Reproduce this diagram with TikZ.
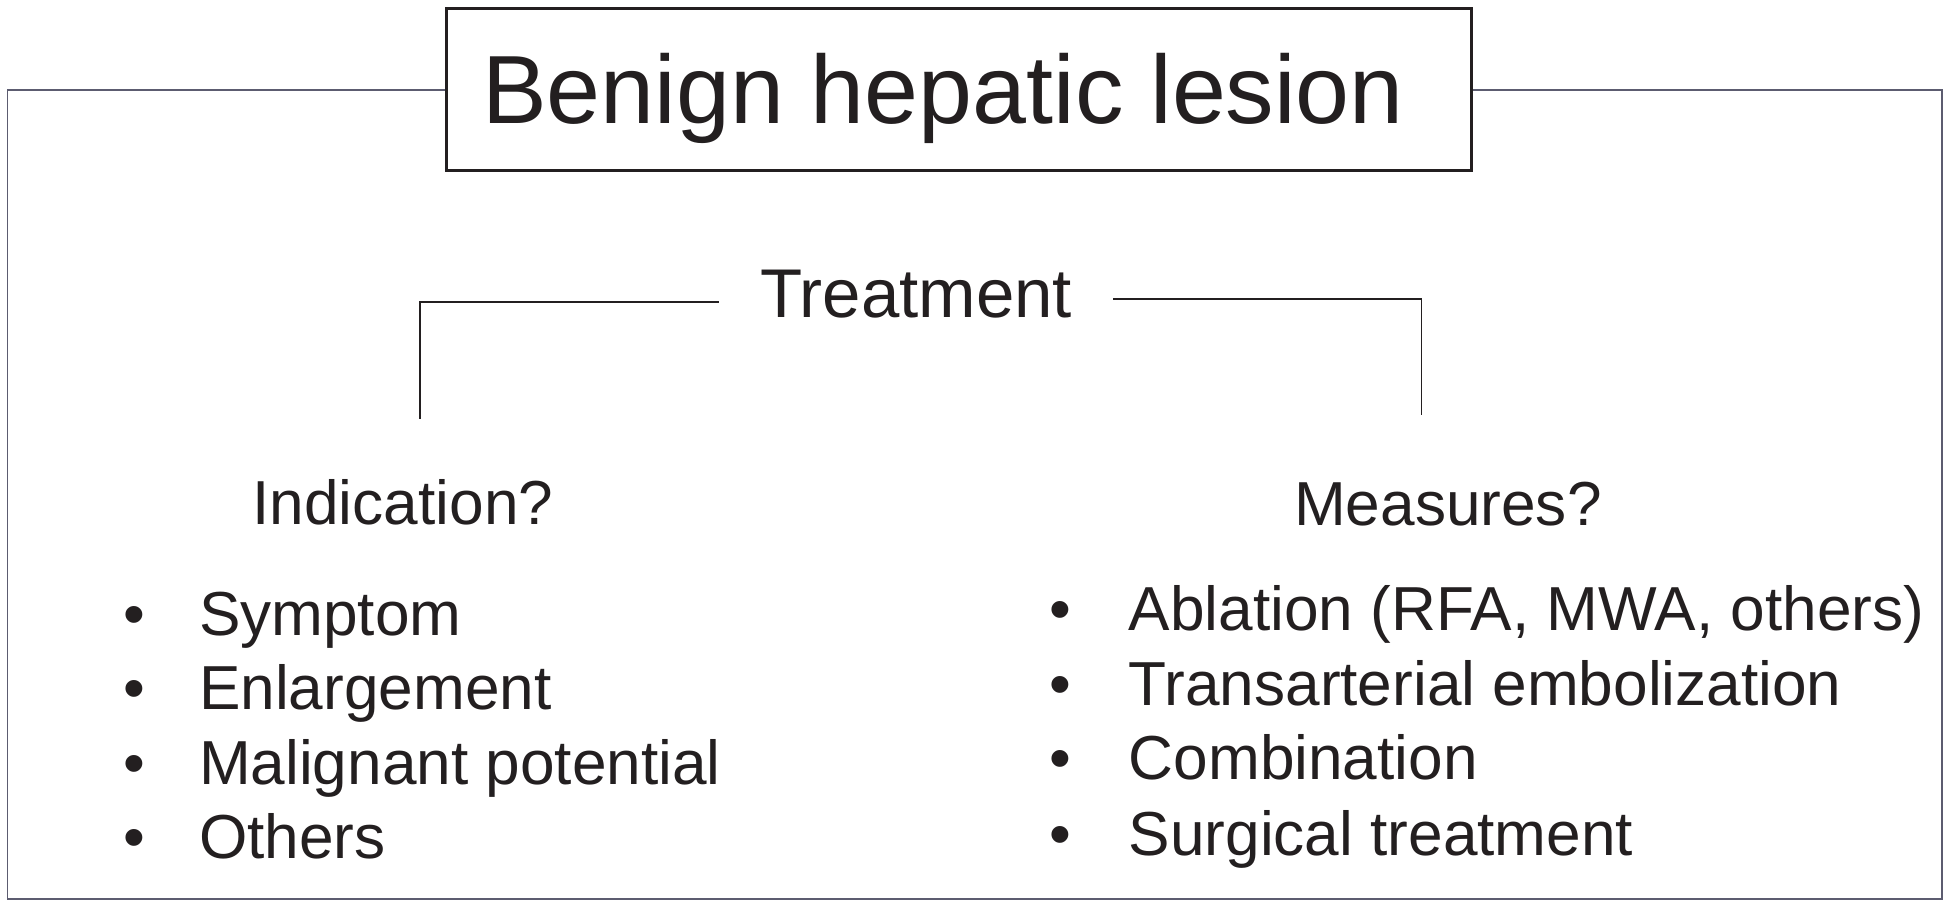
\documentclass[tikz,border=0pt]{standalone}
\usepackage{fontspec}
\setmainfont{Liberation Sans}
\definecolor{ink}{HTML}{231F20}
\definecolor{framec}{HTML}{5C5C70}
\begin{document}
\begin{tikzpicture}[x=1pt,y=-1pt,
  every node/.style={inner sep=0pt, text=ink},
  titlebox/.style={draw=ink, line width=2.4pt, minimum width=824.6pt, minimum height=130.3pt,
    text height=53.3pt, text depth=0pt, font=\fontsize{78}{90}\selectfont},
  framel/.style={draw=framec, line width=1.5pt},
  bracket/.style={draw=ink, line width=1.3pt},
  treatf/.style={font=\fontsize{55.5}{64}\selectfont, inner xsep=33pt, text height=40pt, text depth=12pt, anchor=base},
  head/.style={font=\fontsize{50}{58}\selectfont, anchor=base west},
  item/.style={font=\fontsize{50}{58}\selectfont, anchor=base west}]
\useasboundingbox (0,0) rectangle (1568,730);
% title and outer frame
\node[titlebox] (title) at (771.3,72.35) {\hspace*{-25pt}Benign hepatic lesion};
\coordinate (ftl) at (6,72.35);
\coordinate (fbl) at (6,723.5);
\coordinate (fbr) at (1562,723.5);
\coordinate (ftr) at (1562,72.35);
\draw[framel] (title.west) -- (ftl) -- (fbl) -- (fbr) -- (ftr) -- (title.east);
% treatment bracket
\node[treatf] (treat) at (737,255.6) {Treatment};
\coordinate (indtop) at (337.7,337);
\coordinate (meatop) at (1143.5,333.9);
\draw[bracket] ([yshift=-1.6pt]treat.west) -| (indtop);
\draw[bracket] ([yshift=1.1pt]treat.east) -| (meatop);
% headings
\node[head] (ind) at (203,421.6) {Indication?};
\node[head] (mea) at (1041,423) {Measures?};
% left list
\node[item] (l1) at (99,511) {\makebox[61pt][l]{•}Symptom};
\node[item] (l2) at (99,571) {\makebox[61pt][l]{•}Enlargement};
\node[item] (l3) at (99,631) {\makebox[61pt][l]{•}Malignant potential};
\node[item] (l4) at (99,691) {\makebox[61pt][l]{•}Others};
% right list
\node[item] (r1) at (844,507.6) {\makebox[64pt][l]{•}Ablation (RFA, MWA, others)};
\node[item] (r2) at (844,567.5) {\makebox[64pt][l]{•}Transarterial embolization};
\node[item] (r3) at (844,627.5) {\makebox[64pt][l]{•}Combination};
\node[item] (r4) at (844,688) {\makebox[64pt][l]{•}Surgical treatment};
\end{tikzpicture}
\end{document}
